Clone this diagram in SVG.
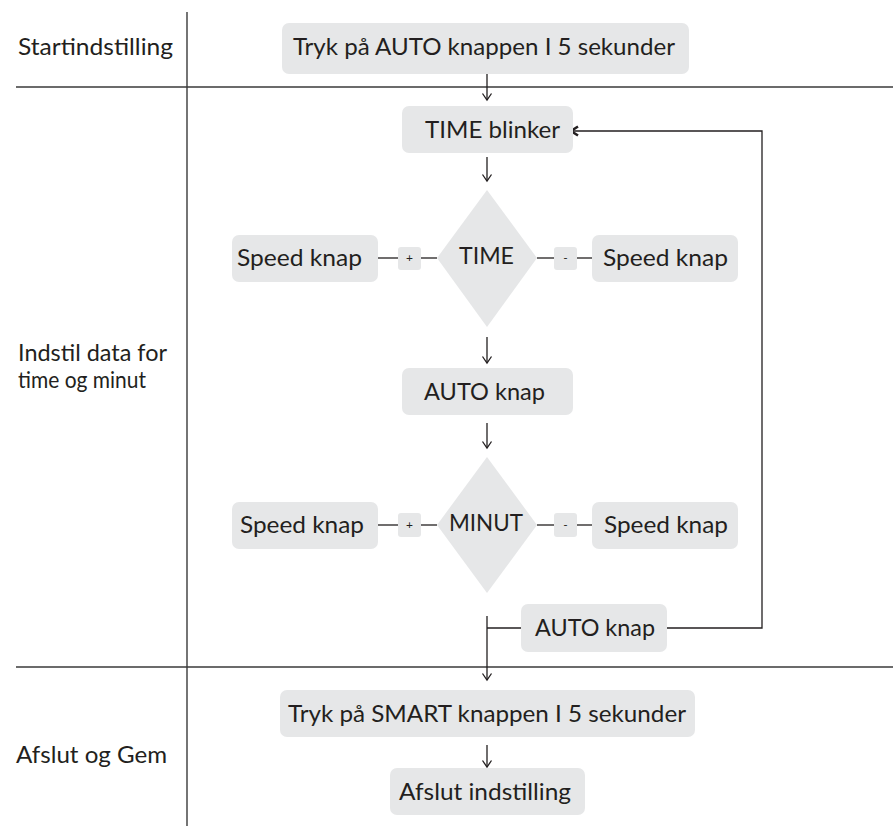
<svg xmlns="http://www.w3.org/2000/svg" width="893" height="826" viewBox="0 0 893 826">
<defs>
<style>
.t{font-family:Lato,"Open Sans","Liberation Sans",sans-serif;font-size:23px;fill:#231f20}
.s{font-family:Lato,"Open Sans","Liberation Sans",sans-serif;font-size:12px;fill:#231f20}
.b{fill:#e6e7e8}
.c{fill:none;stroke:#231f20;stroke-width:1.3}
.lane{fill:none;stroke:#3a3a3a;stroke-width:1.4}
</style>
<marker id="ah" markerUnits="userSpaceOnUse" markerWidth="14" markerHeight="14" refX="7" refY="7" orient="auto" viewBox="0 0 14 14">
<path d="M0.5,2.5 L7,7 L0.5,11.5" fill="none" stroke="#231f20" stroke-width="1.3"/>
</marker>
<marker id="ahb" markerUnits="userSpaceOnUse" markerWidth="14" markerHeight="14" refX="8" refY="7" orient="auto" viewBox="0 0 14 14">
<path d="M1,2.5 L8,7 L1,11.5" fill="none" stroke="#231f20" stroke-width="2.6"/>
</marker>
</defs>
<rect width="893" height="826" fill="#ffffff"/>
<g id="lanes">
<line class="lane" x1="187" y1="12" x2="187" y2="826"/>
<line class="lane" x1="16" y1="87" x2="893" y2="87"/>
<line class="lane" x1="16" y1="667" x2="893" y2="667"/>
<text class="t" x="18" y="55" textLength="155" lengthAdjust="spacingAndGlyphs">Startindstilling</text>
<text class="t" x="18" y="361" font-size="22" textLength="149" lengthAdjust="spacingAndGlyphs">Indstil data for</text>
<text class="t" x="18" y="388" font-size="22" textLength="128" lengthAdjust="spacingAndGlyphs">time og minut</text>
<text class="t" x="16" y="763" textLength="151" lengthAdjust="spacingAndGlyphs">Afslut og Gem</text>
</g>
<g id="connectors">
<line class="c" x1="487" y1="74" x2="487" y2="100" marker-end="url(#ah)"/>
<line class="c" x1="487" y1="157" x2="487" y2="181" marker-end="url(#ah)"/>
<line class="c" x1="487" y1="337" x2="487" y2="363" marker-end="url(#ah)"/>
<line class="c" x1="487" y1="423" x2="487" y2="448" marker-end="url(#ah)"/>
<line class="c" x1="487" y1="745" x2="487" y2="767" marker-end="url(#ah)"/>
<line class="c" x1="521" y1="628" x2="487" y2="628"/>
<line class="c" x1="487" y1="616" x2="487" y2="680" marker-end="url(#ah)"/>
<path class="c" d="M667,628 H762 V131 H571" stroke-width="1.6" marker-end="url(#ahb)"/>
<line class="c" x1="378" y1="258" x2="398" y2="258"/>
<line class="c" x1="421" y1="258" x2="437" y2="258"/>
<line class="c" x1="537" y1="258" x2="554" y2="258"/>
<line class="c" x1="577" y1="258" x2="592" y2="258"/>
<line class="c" x1="378" y1="525" x2="398" y2="525"/>
<line class="c" x1="421" y1="525" x2="437" y2="525"/>
<line class="c" x1="537" y1="525" x2="554" y2="525"/>
<line class="c" x1="577" y1="525" x2="592" y2="525"/>
</g>
<g id="start">
<rect class="b" x="282" y="23" width="407" height="51" rx="7"/>
<text class="t" x="293" y="55" textLength="382" lengthAdjust="spacingAndGlyphs">Tryk på AUTO knappen I 5 sekunder</text>
</g>
<g id="time-blinker">
<rect class="b" x="402" y="106" width="171" height="47" rx="7"/>
<text class="t" x="425" y="138" textLength="135" lengthAdjust="spacingAndGlyphs">TIME blinker</text>
</g>
<g id="time-diamond">
<polygon class="b" points="487,190 537,258 487,327 437,258"/>
<text class="t" x="459" y="264" textLength="55" lengthAdjust="spacingAndGlyphs">TIME</text>
</g>
<g id="speed-time-plus">
<rect class="b" x="232" y="235" width="146" height="47" rx="7"/>
<text class="t" x="237" y="266" textLength="125" lengthAdjust="spacingAndGlyphs">Speed knap</text>
</g>
<g id="plus-time">
<rect class="b" x="398" y="247" width="23" height="23" rx="3"/>
<text class="s" x="409.5" y="262" text-anchor="middle">+</text>
</g>
<g id="minus-time">
<rect class="b" x="554" y="247" width="23" height="23" rx="3"/>
<text class="s" x="565.5" y="262" text-anchor="middle">-</text>
</g>
<g id="speed-time-minus">
<rect class="b" x="592" y="235" width="146" height="47" rx="7"/>
<text class="t" x="603" y="266" textLength="125" lengthAdjust="spacingAndGlyphs">Speed knap</text>
</g>
<g id="auto-knap-1">
<rect class="b" x="402" y="368" width="171" height="47" rx="7"/>
<text class="t" x="424" y="400" textLength="121" lengthAdjust="spacingAndGlyphs">AUTO knap</text>
</g>
<g id="minut-diamond">
<polygon class="b" points="487,457 537,525 487,593 437,525"/>
<text class="t" x="449" y="531" textLength="74" lengthAdjust="spacingAndGlyphs">MINUT</text>
</g>
<g id="speed-minut-plus">
<rect class="b" x="232" y="502" width="146" height="47" rx="7"/>
<text class="t" x="240" y="533" textLength="124" lengthAdjust="spacingAndGlyphs">Speed knap</text>
</g>
<g id="plus-minut">
<rect class="b" x="398" y="513" width="23" height="24" rx="3"/>
<text class="s" x="409.5" y="529" text-anchor="middle">+</text>
</g>
<g id="minus-minut">
<rect class="b" x="554" y="513" width="23" height="24" rx="3"/>
<text class="s" x="565.5" y="529" text-anchor="middle">-</text>
</g>
<g id="speed-minut-minus">
<rect class="b" x="592" y="502" width="146" height="47" rx="7"/>
<text class="t" x="604" y="533" textLength="124" lengthAdjust="spacingAndGlyphs">Speed knap</text>
</g>
<g id="auto-knap-2">
<rect class="b" x="521" y="604" width="146" height="48" rx="7"/>
<text class="t" x="535" y="636" textLength="120" lengthAdjust="spacingAndGlyphs">AUTO knap</text>
</g>
<g id="smart">
<rect class="b" x="280" y="690" width="415" height="47" rx="7"/>
<text class="t" x="288" y="722" textLength="398" lengthAdjust="spacingAndGlyphs">Tryk på SMART knappen I 5 sekunder</text>
</g>
<g id="afslut">
<rect class="b" x="390" y="768" width="195" height="47" rx="7"/>
<text class="t" x="399" y="800" textLength="172" lengthAdjust="spacingAndGlyphs">Afslut indstilling</text>
</g>
</svg>
